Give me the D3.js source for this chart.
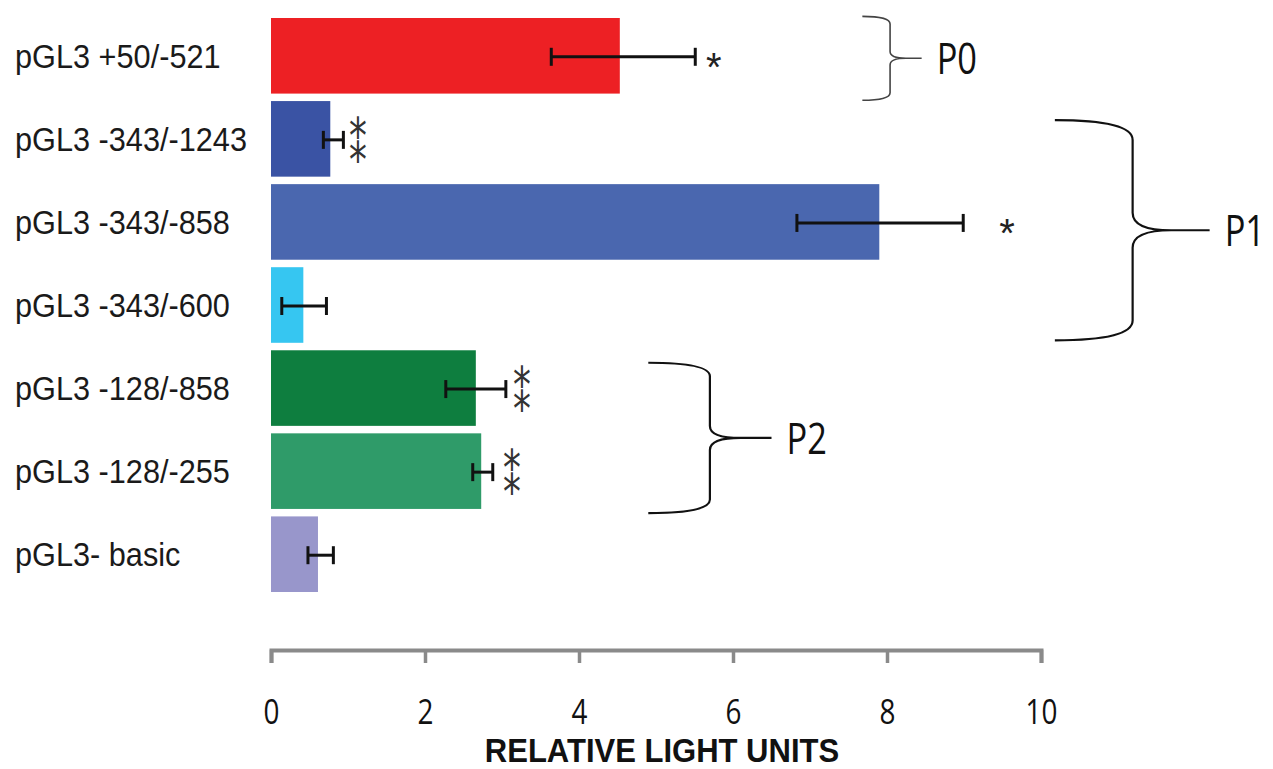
<html>
<script src='https://d3js.org/d3.v7.min.js'></script>
<style>
body { margin: 0; background: #fff; }
.lab { font-family: "Liberation Sans", Arial, sans-serif; font-size: 33px; fill: #1a1a1a; }
.tick text { font-family: "Open Sans", sans-serif; font-size: 34px; fill: #111; }
.grp { font-family: "Open Sans", sans-serif; font-size: 43px; fill: #111; }
.star { font-family: "Liberation Sans", Arial, sans-serif; font-size: 40px; fill: #222; }
.star2 { font-family: "DejaVu Sans", "Noto Sans", sans-serif; font-size: 42px; fill: #333; }
</style>
<body>
<svg width="1273" height="769" class="chart"></svg>
<script>
// data
var labels = ["pGL3 +50/-521", "pGL3 -343/-1243", "pGL3 -343/-858", "pGL3 -343/-600",
              "pGL3 -128/-858", "pGL3 -128/-255", "pGL3- basic"];
var means  = [4.53, 0.77, 7.90, 0.42, 2.66, 2.73, 0.61];
var errLo  = [3.64, 0.68, 6.83, 0.14, 2.27, 2.62, 0.48];
var errHi  = [5.51, 0.94, 8.99, 0.72, 3.05, 2.88, 0.81];
var colors = ["#ed2024", "#3a53a4", "#4a67af", "#36c6f1", "#0e7e3f", "#2f9b69", "#9896cb"];
var ticks  = [0, 2, 4, 6, 8, 10];

// significance stars: bar index, how many, x position (axis units)
var starRow   = [0, 1, 2, 4, 5];
var starCount = [1, 2, 1, 2, 2];
var starX     = [5.75, 1.13, 9.56, 3.26, 3.13];

// promoter groups: name, first/last row (band units), end / spine / tip x (axis units)
var grpNames = ["P0", "P1", "P2"];
var grpTop   = [-0.02, 1.23, 4.15];
var grpBot   = [0.99, 3.88, 5.96];
var grpEnd   = [7.68, 10.18, 4.90];
var grpSpine = [8.04, 11.19, 5.70];
var grpTip   = [8.45, 12.19, 6.50];

var svg = d3.select(".chart");

var x = d3.scaleLinear().domain([0, 10]).range([271, 1041]);
var y = d3.scaleBand().domain(labels).range([18, 592]).paddingInner(0.09).paddingOuter(0);
var rowY = d3.scaleLinear().domain([0, 1]).range([y(labels[0]), y(labels[1])]);

// bars
svg.append("g").selectAll("rect")
  .data(labels)
  .enter().append("rect")
  .attr("x", x(0))
  .attr("y", function(d) { return y(d); })
  .attr("height", y.bandwidth())
  .attr("width", function(d, i) { return x(means[i]) - x(0); })
  .attr("fill", function(d, i) { return colors[i]; });

// category labels
svg.append("g").selectAll("text")
  .data(labels)
  .enter().append("text")
  .attr("class", "lab")
  .attr("transform", function(d) { return "translate(15," + (y(d) + y.bandwidth() / 2 + 12) + ") scale(0.93,1)"; })
  .text(function(d) { return d; });

// error bars
var eb = svg.append("g").attr("stroke", "#111").attr("stroke-width", 3).attr("fill", "none");
labels.forEach(function(d, i) {
  var cy = y(d) + y.bandwidth() / 2 + 1;
  eb.append("line").attr("x1", x(errLo[i])).attr("x2", x(errHi[i])).attr("y1", cy).attr("y2", cy);
  eb.append("line").attr("x1", x(errLo[i])).attr("x2", x(errLo[i])).attr("y1", cy - 9).attr("y2", cy + 9);
  eb.append("line").attr("x1", x(errHi[i])).attr("x2", x(errHi[i])).attr("y1", cy - 9).attr("y2", cy + 9);
});

// stars: single "*", pairs use the stacked two-asterisk character
starRow.forEach(function(r, i) {
  var cy = y(labels[r]) + y.bandwidth() / 2;
  if (starCount[i] == 1) {
    svg.append("text").attr("class", "star").attr("text-anchor", "middle")
      .attr("x", x(starX[i])).attr("y", cy + 25).text("*");
  } else {
    svg.append("text").attr("class", "star2").attr("text-anchor", "middle")
      .attr("transform", "translate(" + x(starX[i]) + "," + (cy + 24) + ") scale(0.85,1.2)")
      .text("\u2051");
  }
});

// braces
grpNames.forEach(function(n, i) {
  var y0 = rowY(grpTop[i]), y1 = rowY(grpBot[i]), ym = (y0 + y1) / 2;
  var h = y1 - y0, k = 0.09 * h, k2 = 0.08 * h;
  var xe = x(grpEnd[i]), xs = x(grpSpine[i]), xt = x(grpTip[i]);
  var xm = xs + (xt - xs) * 0.5;
  var p = d3.path();
  p.moveTo(xe, y0);
  p.quadraticCurveTo(xs, y0, xs, y0 + k);
  p.lineTo(xs, ym - k2);
  p.quadraticCurveTo(xs, ym, xm, ym);
  p.lineTo(xt, ym);
  p.moveTo(xm, ym);
  p.quadraticCurveTo(xs, ym, xs, ym + k2);
  p.lineTo(xs, y1 - k);
  p.quadraticCurveTo(xs, y1, xe, y1);
  svg.append("path").attr("d", p.toString())
    .attr("fill", "none")
    .attr("stroke", i == 0 ? "#444" : "#111")
    .attr("stroke-width", i == 0 ? 1.6 : 2.2);
  svg.append("text").attr("class", "grp")
    .attr("transform", "translate(" + (xt + 15) + "," + (ym + 16) + ") scale(0.8,1)")
    .text(n);
});

// axis
var ax = svg.append("g")
  .attr("transform", "translate(0,650)")
  .call(d3.axisBottom(x).tickValues(ticks).tickSize(13).tickSizeOuter(13).tickFormat(d3.format("d")));
ax.select(".domain").attr("stroke", "#8a8a8a").attr("stroke-width", 4);
ax.selectAll(".tick line").attr("stroke", "#8a8a8a").attr("stroke-width", 3.5);
ax.selectAll(".tick text").attr("transform", "scale(0.82,1)").attr("dy", 0).attr("y", 74)
  .attr("font-family", null).attr("font-size", null);

svg.append("text")
  .attr("transform", "translate(662,762) scale(0.94,1)")
  .attr("text-anchor", "middle")
  .attr("font-family", "Liberation Sans, Arial, sans-serif")
  .attr("font-weight", "bold")
  .attr("font-size", 33)
  .attr("fill", "#111")
  .text("RELATIVE LIGHT UNITS");
</script>
</body>
</html>
